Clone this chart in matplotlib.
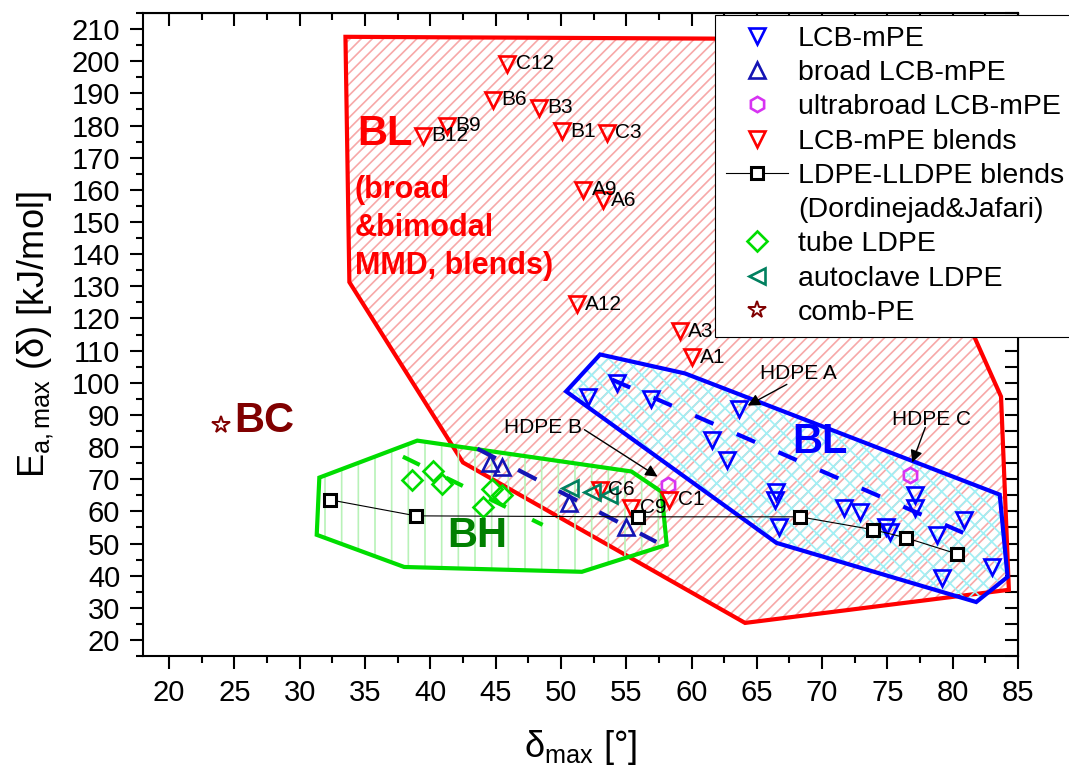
import matplotlib.pyplot as plt
import numpy as np
from matplotlib.patches import Polygon
from matplotlib.ticker import MultipleLocator

plt.rcParams['font.family'] = ['Liberation Sans', 'DejaVu Sans']
plt.rcParams['mathtext.fontset'] = 'custom'
plt.rcParams['mathtext.rm'] = 'Liberation Sans'
plt.rcParams['mathtext.it'] = 'Liberation Sans:italic'
plt.rcParams['mathtext.bf'] = 'Liberation Sans:bold'
plt.rcParams['mathtext.default'] = 'regular'
plt.rcParams['hatch.linewidth'] = 1.2

# LCB-mPE
lcb_x = [52.1, 54.3, 56.9, 63.6, 61.6, 62.7, 66.5, 66.4, 66.7, 71.7, 72.9, 74.9,
         75.2, 77.1, 77.1, 78.8, 80.9, 83.0, 79.2]
lcb_y = [95.7, 99.8, 95.1, 91.7, 82.3, 76.1, 66.1, 63.6, 55.2, 61.1, 59.9, 55.2,
         53.7, 65.2, 61.1, 52.7, 57.4, 42.7, 39.3]

# broad LCB-mPE
broad_x = [44.6, 45.5, 50.6, 55.0]
broad_y = [74.9, 73.9, 62.7, 55.2]

# ultrabroad LCB-mPE (HDPE B, HDPE C)
ultra_x = [58.2, 76.7]
ultra_y = [68.3, 71.4]

# LCB-mPE blends
blend_names = ['C12', 'B6', 'B3', 'B9', 'B12', 'B1', 'C3', 'A9', 'A6', 'A12',
               'A3', 'A1', 'C6', 'C9', 'C1']
blend_x = [45.9, 44.8, 48.3, 41.3, 39.4, 50.1, 53.5, 51.7, 53.2, 51.2,
           59.1, 60.0, 53.0, 55.4, 58.3]
blend_y = [199.2, 188.0, 185.5, 179.9, 176.8, 178.3, 177.7, 160.0, 156.8, 124.4,
           116.0, 107.9, 66.7, 61.1, 63.6]

# LDPE-LLDPE blends (Dordinejad & Jafari)
ldpe_x = [32.3, 38.9, 55.9, 68.3, 73.9, 76.4, 80.3]
ldpe_y = [63.6, 58.6, 58.3, 58.3, 54.3, 51.8, 46.8]

# tube LDPE
tube_x = [38.6, 40.2, 40.9, 44.7, 45.5, 44.0]
tube_y = [69.6, 72.7, 68.6, 67.1, 65.2, 61.4]

# autoclave LDPE
auto_x = [50.7, 52.4, 53.7]
auto_y = [67.4, 66.1, 65.2]

# comb-PE
comb_x = [24.0]
comb_y = [87.0]

# region outlines
red_region = [(33.5, 207.6), (63.6, 207.0), (81.5, 115.7), (83.7, 95.7), (84.3, 35.6),
              (64.1, 25.3), (42.5, 75.2), (33.8, 131.3)]
blue_region = [(50.4, 97.3), (53.0, 108.8), (59.5, 102.9), (83.6, 65.2), (84.2, 39.6),
               (81.8, 31.8), (66.5, 50.2)]
green_region = [(31.5, 70.5), (39.0, 82.0), (55.4, 72.4), (57.7, 66.1), (58.1, 49.6),
                (51.6, 41.2), (38.0, 42.7), (31.3, 52.7)]

# trend lines (dashed)
trend_lcb_x = [53.9, 81.5]
trend_lcb_y = [101.0, 52.1]
trend_broad_x = [43.6, 57.3]
trend_broad_y = [79.5, 50.5]
trend_tube_x = [37.9, 48.6]
trend_tube_y = [77.0, 55.8]

fig = plt.figure(figsize=(10.69, 7.75), dpi=100)
ax = fig.add_axes([0.1338, 0.1535, 0.8185, 0.8297])

# regions
for pts, hcol, ecol, hatch, z in [(red_region, '#F7A8A8', '#FF0000', '///', 1.0),
                                  (blue_region, '#A0F0F5', '#0000FF', 'xx', 1.2),
                                  (green_region, '#B8F2B8', '#00DD00', '|', 1.4)]:
    ax.add_patch(Polygon(pts, closed=True, facecolor='none', edgecolor=hcol,
                         lw=0, hatch=hatch, zorder=z))
    ax.add_patch(Polygon(pts, closed=True, fill=False, edgecolor=ecol,
                         lw=3, zorder=z + 0.1))

ax.plot(trend_lcb_x, trend_lcb_y, color='#0000FF', lw=3, ls=(0, (4.8, 6.1)), zorder=2)
ax.plot(trend_broad_x, trend_broad_y, color='#1414B4', lw=3, ls=(0, (5, 6)), zorder=2)
ax.plot(trend_tube_x, trend_tube_y, color='#00DD00', lw=3, ls=(0, (4.5, 7)), zorder=2)

h1, = ax.plot(lcb_x, lcb_y, ls='none', marker='v', ms=11.5, mfc='none', mec='#0000FF',
              mew=1.9, label='LCB-mPE', zorder=4)
h2, = ax.plot(broad_x, broad_y, ls='none', marker='^', ms=11.5, mfc='none', mec='#1414B4',
              mew=1.9, label='broad LCB-mPE', zorder=4)
h3, = ax.plot(ultra_x, ultra_y, ls='none', marker='h', ms=11, mfc='none', mec='#D733F2',
              mew=1.9, label='ultrabroad LCB-mPE', zorder=4)
h4, = ax.plot(blend_x, blend_y, ls='none', marker='v', ms=11.5, mfc='none', mec='#FF0000',
              mew=1.9, label='LCB-mPE blends', zorder=4)
h5, = ax.plot(ldpe_x, ldpe_y, color='black', lw=0.8, marker='s', ms=8, mfc='white',
              mec='black', mew=2.2, label='LDPE-LLDPE blends', zorder=4)
h5b, = ax.plot([], [], ls='none', marker='none', label='(Dordinejad&Jafari)')
h6, = ax.plot(tube_x, tube_y, ls='none', marker='D', ms=10, mfc='none', mec='#00DD00',
              mew=1.9, label='tube LDPE', zorder=4)
h7, = ax.plot(auto_x, auto_y, ls='none', marker='<', ms=11.5, mfc='none', mec='#00805F',
              mew=1.9, label='autoclave LDPE', zorder=4)
h8, = ax.plot(comb_x, comb_y, ls='none', marker='*', ms=13, mfc='none', mec='#800000',
              mew=1.4, label='comb-PE', zorder=4)

for name, x, y in zip(blend_names, blend_x, blend_y):
    ax.annotate(name, (x, y), xytext=(6, 0), textcoords='offset points',
                fontsize=15, ha='left', va='center', zorder=5)

# HDPE labels with arrows
arrow = dict(arrowstyle='-|>', color='black', lw=1, shrinkA=0, shrinkB=0, mutation_scale=18)
ax.text(68.2, 102.9, 'HDPE A', fontsize=15, ha='center', va='center', zorder=5)
ax.annotate('', xy=(64.3, 92.9), xytext=(67.3, 99.5), arrowprops=arrow, zorder=5)
ax.text(48.6, 86.1, 'HDPE B', fontsize=15, ha='center', va='center', zorder=5)
ax.annotate('', xy=(57.4, 70.8), xytext=(51.8, 85.4), arrowprops=arrow, zorder=5)
ax.text(78.4, 88.6, 'HDPE C', fontsize=15, ha='center', va='center', zorder=5)
ax.annotate('', xy=(76.9, 75.2), xytext=(77.9, 86.1), arrowprops=arrow, zorder=5)

# region names
ax.text(34.4, 177.3, 'BL', color='#FF0000', fontsize=30, fontweight='bold',
        ha='left', va='center', zorder=5)
ax.text(34.2, 148.2, '(broad\n&bimodal\nMMD, blends)', color='#FF0000', fontsize=22,
        fontweight='bold', ha='left', va='center', linespacing=1.36, zorder=5)
ax.text(69.8, 81.5, 'BL', color='#0000FF', fontsize=30, fontweight='bold',
        ha='center', va='center', zorder=5)
ax.text(43.6, 52.2, 'BH', color='#008000', fontsize=30, fontweight='bold',
        ha='center', va='center', zorder=5)
ax.text(27.3, 88.0, 'BC', color='#800000', fontsize=30, fontweight='bold',
        ha='center', va='center', zorder=5)

ax.set_xlim(18, 85)
ax.set_ylim(15, 215)
ax.xaxis.set_major_locator(MultipleLocator(5))
ax.xaxis.set_minor_locator(MultipleLocator(2.5))
ax.yaxis.set_major_locator(MultipleLocator(10))
ax.yaxis.set_minor_locator(MultipleLocator(5))
ax.tick_params(which='major', direction='out', length=9.4, width=1.5, labelsize=21, pad=7)
ax.tick_params(which='minor', direction='out', length=5, width=1.5)
for s in ax.spines.values():
    s.set_linewidth(1.5)

secx = ax.secondary_xaxis('top')
secx.xaxis.set_major_locator(MultipleLocator(5))
secx.xaxis.set_minor_locator(MultipleLocator(2.5))
secx.tick_params(which='major', direction='in', length=9.4, width=1.5, labeltop=False)
secx.tick_params(which='minor', direction='in', length=5, width=1.5)
secy = ax.secondary_yaxis('right')
secy.yaxis.set_major_locator(MultipleLocator(10))
secy.yaxis.set_minor_locator(MultipleLocator(5))
secy.tick_params(which='both', direction='in', length=9.4, width=1.5, labelright=False)

ax.set_ylabel(r'E$_{a,max}$ (δ) [kJ/mol]', fontsize=26)
ax.yaxis.set_label_coords(-0.1, 0.5)
ax.set_xlabel(r'δ$_{max}$ [°]', fontsize=26)
ax.xaxis.set_label_coords(0.5, -0.112)

leg = ax.legend(handles=[h1, h2, h3, h4, h5, h5b, h6, h7, h8], fontsize=20.5,
                loc='upper left', bbox_to_anchor=(715 / 1069, 1 - 15 / 775),
                bbox_transform=fig.transFigure, borderaxespad=0, borderpad=0.38,
                handlelength=2.2, handletextpad=0.33, labelspacing=0.29,
                frameon=True, fancybox=False, framealpha=1, edgecolor='black')
leg.get_frame().set_linewidth(0.8)
leg.set_zorder(10)

fig.savefig('out.png', dpi=100)
